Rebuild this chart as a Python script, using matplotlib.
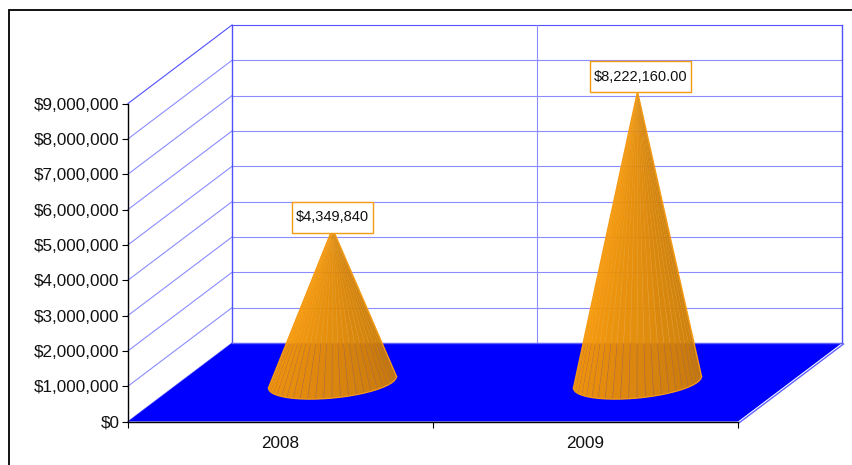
import numpy as np
import matplotlib
matplotlib.use("Agg")
import matplotlib.pyplot as plt
from matplotlib.patches import Polygon, Rectangle
from matplotlib.ticker import FuncFormatter
from matplotlib.transforms import IdentityTransform, offset_copy

plt.rcParams['font.family'] = ['Liberation Sans', 'DejaVu Sans']

years = ['2008', '2009']
values = [4349840, 8222160]
value_labels = ['$4,349,840', '$8,222,160.00']
y_ticks = list(range(0, 9000001, 1000000))

# how far the back wall sits from the front plane, in data units
DEPTH_X = 104 / 305
DEPTH_Y = 78.5 / 318 * 9000000
BLUE_LINE = '#8c8cff'
BLUE_EDGE = '#5050ff'
ORANGE_EDGE = '#f59a14'


def proj(x, depth, val):
    return x + depth * DEPTH_X, val + depth * DEPTH_Y


fig = plt.figure(figsize=(8.52, 4.65), dpi=100)
ax = fig.add_axes([128 / 852, 43.5 / 465, 610 / 852, 318 / 465])
ax.set_xlim(0, 2)
ax.set_ylim(0, 9000000)
ax.patch.set_visible(False)

# outer chart border, runs off the right and bottom of the image
fig.add_artist(Rectangle((8.5 / 852, -0.1), 1, 1.1 - 10.5 / 465, fill=False,
                         ec='black', lw=1.3, transform=fig.transFigure))

# walls
for v in y_ticks:
    c = BLUE_EDGE if v == y_ticks[-1] else BLUE_LINE
    x0, y0 = proj(0, 0, v)
    x1, y1 = proj(0, 1, v)
    x2, y2 = proj(2, 1, v)
    ax.plot([x0, x1], [y0, y1], color=c, lw=0.8, clip_on=False, zorder=1)
    ax.plot([x1, x2], [y1, y2], color=c, lw=0.8, clip_on=False, zorder=1)
for cat, c, lw in [(0, BLUE_EDGE, 1.0), (1, BLUE_LINE, 0.8), (2, BLUE_EDGE, 1.0)]:
    x0, y0 = proj(cat, 1, 0)
    x1, y1 = proj(cat, 1, y_ticks[-1])
    ax.plot([x0, x1], [y0, y1], color=c, lw=lw, clip_on=False, zorder=1)

# floor
corners = [proj(0, 0, 0), proj(2, 0, 0), proj(2, 1, 0), proj(0, 1, 0)]
ax.add_patch(Polygon(corners, closed=True, fc='#0000ff', ec='none', clip_on=False, zorder=2))
ax.plot([corners[3][0], corners[2][0]], [corners[3][1], corners[2][1]],
        color='#6060ff', lw=1.0, clip_on=False, zorder=2)
shifted = offset_copy(ax.transData, fig=fig, x=1.5, y=-1.0, units='dots')
ax.plot([corners[1][0], corners[2][0]], [corners[1][1], corners[2][1]],
        color='#6060ff', lw=1.0, clip_on=False, zorder=2, transform=shifted)

# cones, an orange underlay keeps the facet seams faint
RAD_X = 60 / 305
RAD_D = 0.215
STEP = 7.5
GAP = 0.25
label_shift = [(0, 11.5), (3, 15)]
renderer = fig.canvas.get_renderer()


def rim_point(cx, deg):
    t = np.radians(deg)
    return proj(cx + RAD_X * np.cos(t), 0.5 + RAD_D * np.sin(t), 0)


for i, val in enumerate(values):
    cx = i + 0.5
    apex = proj(cx, 0.5, val)
    starts = np.arange(200, 380, STEP)
    rim = np.array([rim_point(cx, a) for a in np.append(starts, 380)])
    ax.add_patch(Polygon(np.vstack([[apex], rim]), closed=True, fc='#e08c0c', ec='none',
                         alpha=0.72, clip_on=False, zorder=3))
    for k, a in enumerate(starts):
        shade = 1.0 - 0.22 * (k / (len(starts) - 1))
        col = (shade, 0.61 * shade, 0.02)
        ax.add_patch(Polygon([apex, rim_point(cx, a + GAP), rim_point(cx, a + STEP - GAP)],
                             closed=True, fc=col, ec='none', alpha=0.88, clip_on=False, zorder=3))
    ax.plot([rim[0][0], apex[0], rim[-1][0]], [rim[0][1], apex[1], rim[-1][1]],
            color=ORANGE_EDGE, lw=1.0, clip_on=False, zorder=4)
    ax.plot(rim[:, 0], rim[:, 1], color=ORANGE_EDGE, lw=0.9, clip_on=False, zorder=4)

    # data label: box is taller than a plain bbox pad would allow
    px, py = ax.transData.transform(apex)
    lx = px + label_shift[i][0]
    ly = py + label_shift[i][1]
    t = ax.text(lx, ly, value_labels[i], transform=IdentityTransform(), ha='center', va='center',
                fontsize=10.5, color='#111111', zorder=6, clip_on=False)
    w = t.get_window_extent(renderer).width
    ax.add_artist(Rectangle((lx - w / 2 - 3.5, ly - 15.5), w + 7, 31, fc='white', ec=ORANGE_EDGE,
                            lw=1.0, transform=IdentityTransform(), clip_on=False, zorder=5))

# axes
for side in ['top', 'right']:
    ax.spines[side].set_visible(False)
ax.spines['left'].set_linewidth(1.0)
ax.spines['bottom'].set_linewidth(1.0)
ax.spines['left'].set_zorder(6)
ax.spines['bottom'].set_zorder(6)
ax.set_yticks(y_ticks)
ax.yaxis.set_major_formatter(FuncFormatter(lambda v, p: '${:,.0f}'.format(v)))
ax.set_xticks([0, 1, 2])
ax.set_xticklabels([])
ax.set_xticks([0.5, 1.5], minor=True)
ax.set_xticklabels(years, minor=True)
ax.tick_params(axis='x', which='major', length=4, width=0.8)
ax.tick_params(axis='x', which='minor', length=0, pad=10.5, labelsize=12.3, labelcolor='#111111')
ax.tick_params(axis='y', length=4, width=0.8, pad=2, labelsize=12.3, labelcolor='#111111')

fig.savefig('out.png', dpi=100)
